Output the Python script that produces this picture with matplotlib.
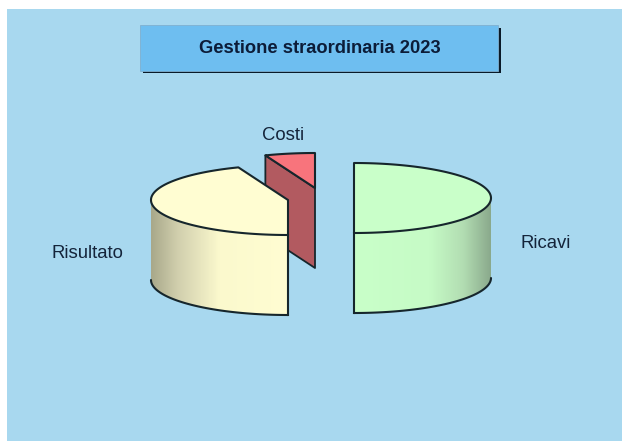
import numpy as np
import matplotlib
matplotlib.use("Agg")
import matplotlib.pyplot as plt
from matplotlib.patches import Polygon, Rectangle
from matplotlib.colors import LinearSegmentedColormap

plt.rcParams['font.family'] = ['Liberation Sans', 'DejaVu Sans']

title = "Gestione straordinaria 2023"
categories = ["Ricavi", "Risultato", "Costi"]
values = [50.0, 44.1, 5.9]
top_colors = ["#C9FFC9", "#FFFDD2", "#F8747C"]
cut_colors = ["#C9FFC9", "#FFFDD2", "#B25A60"]
centers = [(354, 198), (288, 200), (315, 188)]
label_pos = [(546, 244), (87, 253), (283, 135)]
RX, RY, DEPTH = 137, 35, 80
LINE = "#16262c"
BG = "#A8D8EF"

fig = plt.figure(figsize=(6.22, 4.41), dpi=100, facecolor="white")
ax = fig.add_axes([0, 0, 1, 1])
ax.set_axis_off()

ax.add_patch(Rectangle((7, 9), 616, 432, fc=BG, ec="none", zorder=0))

# title box
ax.add_patch(Rectangle((143, 28), 358, 45, fc="#0a1a28", ec="none", zorder=1))
ax.add_patch(Rectangle((140, 25), 358, 45.5, fc="#6EBEF0", ec="#7FB0D0", lw=0.6, zorder=2))
ax.text(319.5, 48.5, title, ha="center", va="center", fontsize=13.2, fontweight="bold",
        color="#0c1c38", zorder=3)


def pt(c, th, dz=0.0):
    return (c[0] + RX * np.sin(th), c[1] - RY * np.cos(th) + dz)


def arc(c, a, b, dz=0.0, n=120):
    t = np.linspace(a, b, n)
    return np.column_stack([c[0] + RX * np.sin(t), c[1] - RY * np.cos(t) + dz])


fracs = np.array(values) / sum(values)
edges = np.concatenate([[0], np.cumsum(fracs)]) * 2 * np.pi

side_maps = [
    [(0.0, "#C9FFC9"), (0.55, "#C6FBC6"), (0.8, "#B2DDB2"), (1.0, "#8AA98C")],
    [(0.0, "#A8A88A"), (0.2, "#D2D0AE"), (0.5, "#FBF9CD"), (1.0, "#FFFDD2")],
    [(0.0, "#B25A60"), (1.0, "#B25A60")],
]
# paint order: back slice first
z = {2: 5, 0: 10, 1: 15}
for i in [2, 0, 1]:
    a, b = edges[i], edges[i + 1]
    c = centers[i]
    zo = z[i]
    # cut faces (radial walls visible from the front)
    for th in (a, b):
        p = pt(c, th)
        if abs(p[0] - c[0]) > 1 and i == 2:
            q = [c, p, (p[0], p[1] + DEPTH), (c[0], c[1] + DEPTH)]
            ax.add_patch(Polygon(q, closed=True, fc=cut_colors[i], ec=LINE, lw=1.3, zorder=zo, joinstyle="round"))
    # curved front wall
    lo, hi = max(a, np.pi / 2), min(b, 3 * np.pi / 2)
    if hi > lo:
        t = arc(c, lo, hi)
        bot = arc(c, hi, lo, DEPTH)
        poly = Polygon(np.vstack([t, bot]), closed=True, fc="none", ec="none", zorder=zo)
        ax.add_patch(poly)
        x0, x1 = min(t[:, 0].min(), bot[:, 0].min()), max(t[:, 0].max(), bot[:, 0].max())
        cmap = LinearSegmentedColormap.from_list(f"s{i}", side_maps[i])
        im = ax.imshow(np.linspace(0, 1, 256).reshape(1, -1), cmap=cmap, aspect="auto",
                       extent=(x0, x1, c[1] + RY + DEPTH + 5, c[1] - RY), zorder=zo, interpolation="bilinear")
        im.set_clip_path(poly)
        ax.plot(bot[:, 0], bot[:, 1], color=LINE, lw=1.5, zorder=zo + 2, solid_capstyle="round")
        # straight vertical edge at the 180 degree cut
        ex, ey = pt(c, np.pi)
        ax.plot([ex, ex], [ey, ey + DEPTH], color=LINE, lw=1.5, zorder=zo + 2)
    # top face
    top = np.vstack([[c], arc(c, a, b)])
    ax.add_patch(Polygon(top, closed=True, fc=top_colors[i], ec=LINE, lw=1.5, zorder=zo + 1, joinstyle="round"))

for name, (lx, ly) in zip(categories, label_pos):
    ax.text(lx, ly, name, ha="center", va="center", fontsize=13.3, color="#14243a", zorder=30)

ax.set_xlim(0, 622)
ax.set_ylim(441, 0)
fig.savefig("out.png", dpi=100, facecolor="white")
